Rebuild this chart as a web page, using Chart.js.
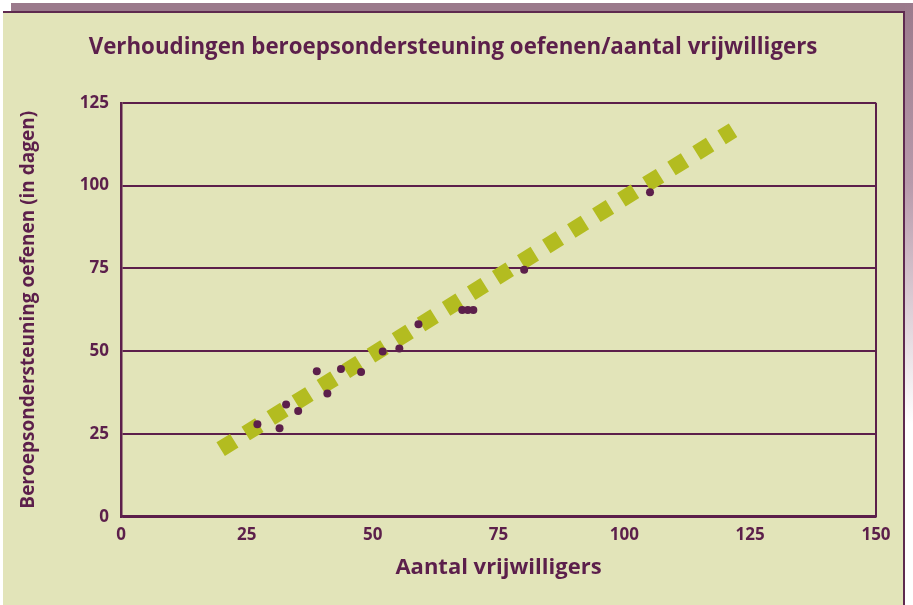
<!DOCTYPE html>
<html>
<head>
<meta charset="utf-8">
<script src="https://cdn.jsdelivr.net/npm/chart.js@4.4.1/dist/chart.umd.min.js"></script>
<style>
html, body { margin: 0; padding: 0; background: #fff; }
#wrap { position: relative; width: 913px; height: 605px; overflow: hidden; }
#band { position: absolute; left: 11px; top: 3px; width: 902px; height: 9px; background: #9b7a8c; }
#side { position: absolute; left: 905px; top: 3px; width: 8px; height: 602px; background: linear-gradient(#9b7a8c, #b89aab 30%, #fff 70%); }
#panel { position: absolute; left: 3px; top: 11px; width: 900px; height: 592px; background: #e2e4b9; border-top: 2px solid #5e2a4f; border-right: 2px solid #5e2a4f; }
#box { position: absolute; left: 0; top: 0; width: 913px; height: 605px; }
</style>
</head>
<body>
<div id="wrap">
  <div id="band"></div>
  <div id="side"></div>
  <div id="panel"></div>
  <div id="box"><canvas id="chart"></canvas></div>
</div>
<script>
// aantal vrijwilligers / dagen beroepsondersteuning
const volunteers = [27.1, 31.5, 32.8, 35.2, 38.9, 41.0, 43.7, 47.7, 52.0, 55.3, 59.1, 67.8, 68.9, 70.0, 80.1, 105.1];
const supportDays = [27.9, 26.7, 33.9, 31.9, 43.9, 37.2, 44.6, 43.7, 49.9, 50.8, 58.1, 62.4, 62.4, 62.4, 74.6, 98.0];

// trendlijn
const trendX = [19.8, 121.6];
const trendY = [20.4, 116.7];

const xTicks = [0, 25, 50, 75, 100, 125, 150];
const yTicks = [0, 25, 50, 75, 100, 125];

const plum = "#5c1f4b";
const lime = "#b3bc20";

const to_points = function (xs, ys) {
    let array = [];
    for (let i = 0; i < xs.length; i++) {
        array.push({ x: xs[i], y: ys[i] });
    }
    return array;
}

Chart.defaults.font.family = "'Open Sans'";
Chart.defaults.color = plum;

const ctx = document.getElementById("chart");

const myChart = new Chart(ctx, {
    type: "scatter",
    data: {
        datasets: [{
            label: "vrijwilligers",
            data: to_points(volunteers, supportDays),
            pointRadius: 4,
            pointHoverRadius: 4,
            backgroundColor: plum,
            borderWidth: 0,
            order: 0
        }, {
            label: "trend",
            data: to_points(trendX, trendY),
            showLine: true,
            pointRadius: 0,
            borderColor: lime,
            borderWidth: 16,
            borderDash: [16, 13.5],
            borderCapStyle: "butt",
            order: 1
        }]
    },
    options: {
        responsive: true,
        maintainAspectRatio: false,
        animation: false,
        layout: { padding: { left: 0, right: 7, top: 0, bottom: 0 } },
        plugins: {
            legend: { display: false },
            tooltip: { enabled: false },
            title: {
                display: true,
                text: "Verhoudingen beroepsondersteuning oefenen/aantal vrijwilligers",
                color: plum,
                font: { size: 22.3, weight: "bold", lineHeight: 1.2 },
                padding: { top: 34.5, bottom: 41.5 }
            }
        },
        scales: {
            x: {
                type: "linear",
                min: 0,
                max: 150,
                afterBuildTicks: (s) => { s.ticks = xTicks.map(v => ({ value: v })); },
                afterFit: (s) => { s.height = 88.3; },
                ticks: { color: plum, padding: 8, font: { size: 17, weight: "bold" } },
                grid: {
                    drawTicks: false,
                    lineWidth: 2,
                    color: (c) => (c.tick && c.tick.value === 150) ? plum : "rgba(0,0,0,0)"
                },
                border: { color: plum, width: 2.5 },
                title: {
                    display: true,
                    text: "Aantal vrijwilligers",
                    color: plum,
                    font: { size: 22, weight: "bold", lineHeight: 1.2 },
                    padding: { top: 0, bottom: 24 }
                }
            },
            y: {
                min: 0,
                max: 125,
                afterBuildTicks: (s) => { s.ticks = yTicks.map(v => ({ value: v })); },
                afterFit: (s) => { s.width = 121; },
                ticks: { color: plum, padding: 12, font: { size: 17, weight: "bold" } },
                grid: { drawTicks: false, lineWidth: 2, color: plum },
                border: { color: plum, width: 2.5 },
                title: {
                    display: true,
                    text: "Beroepsondersteuning oefenen (in dagen)",
                    color: plum,
                    font: { size: 19, weight: "bold", lineHeight: 1.2 },
                    padding: { top: 17, bottom: 0 }
                }
            },
            // lege ruimte rechts van het plotvlak
            spacer: {
                position: "right",
                min: 0,
                max: 1,
                afterFit: (s) => { s.width = 30; },
                ticks: { display: false },
                grid: { display: false },
                border: { display: false }
            }
        }
    }
});
</script>
</body>
</html>
